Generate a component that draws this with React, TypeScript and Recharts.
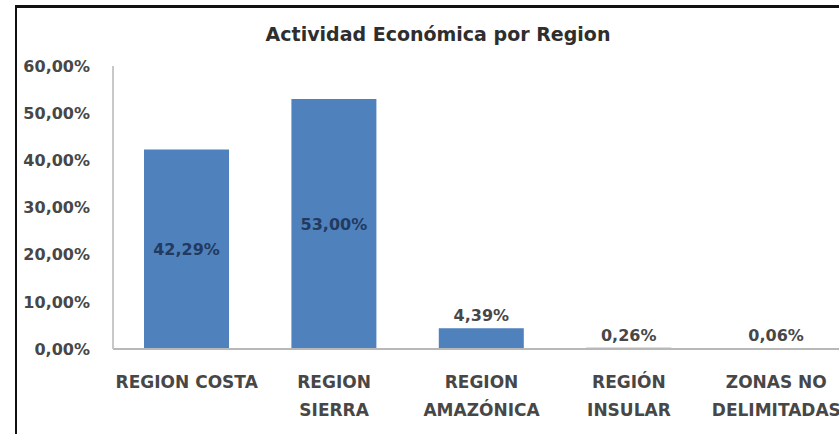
import React from "react";
import { BarChart, Bar, XAxis, YAxis, LabelList, Cell } from "recharts";

const categories = [
  "REGION COSTA",
  "REGION\nSIERRA",
  "REGION\nAMAZÓNICA",
  "REGIÓN\nINSULAR",
  "ZONAS NO\nDELIMITADAS",
];
const shares = [42.29, 53.0, 4.39, 0.26, 0.06];
const yTicks = [0, 10, 20, 30, 40, 50, 60];
const title = "Actividad Económica por Region";

const data = categories.map((c, i) => ({ name: c, value: shares[i] }));

const FONT = "'DejaVu Sans', sans-serif";
const fmt = (v: number) => v.toFixed(2).replace(".", ",") + "%";

const XTick = (props: any) => {
  const { x, y, payload } = props;
  const lines = String(payload.value).split("\n");
  return (
    <g transform={`translate(${x},${y})`}>
      {lines.map((l: string, i: number) => (
        <text
          key={i}
          x={0}
          y={31 + i * 28}
          textAnchor="middle"
          fill="#474747"
          fontSize={17}
          fontWeight={700}
          fontFamily={FONT}
        >
          {l}
        </text>
      ))}
    </g>
  );
};

const ValueLabel = (props: any) => {
  const { x, y, width, height, value } = props;
  const cx = x + width / 2;
  if (value > 10) {
    return (
      <text
        x={cx}
        y={y + height / 2 + 6}
        textAnchor="middle"
        fill="#223a60"
        fontSize={16}
        fontWeight={700}
        fontFamily={FONT}
      >
        {fmt(value)}
      </text>
    );
  }
  return (
    <text
      x={cx}
      y={y - 7}
      textAnchor="middle"
      fill="#474747"
      fontSize={16}
      fontWeight={700}
      fontFamily={FONT}
    >
      {fmt(value)}
    </text>
  );
};

export default function App() {
  return (
    <div
      style={{
        position: "absolute",
        left: 0,
        top: 0,
        width: 839,
        height: 434,
        overflow: "hidden",
        background: "#ffffff",
      }}
    >
      <div
        style={{
          position: "absolute",
          left: 15,
          top: 5,
          width: 900,
          height: 500,
          borderLeft: "2px solid #111",
          borderTop: "3px solid #111",
          boxSizing: "border-box",
        }}
      />
      <div
        style={{
          position: "absolute",
          left: 0,
          top: 23,
          width: 876,
          textAlign: "center",
          fontFamily: FONT,
          fontWeight: 700,
          fontSize: 19,
          color: "#2e2e2e",
        }}
      >
        {title}
      </div>
      <div style={{ position: "absolute", left: 0, top: 0 }}>
        <BarChart
          width={860}
          height={434}
          data={data}
          margin={{ top: 66, right: 10, bottom: 0, left: 0 }}
        >
          <XAxis
            dataKey="name"
            interval={0}
            tickLine={false}
            axisLine={{ stroke: "#b8b8b8", strokeWidth: 2 }}
            height={85}
            tick={<XTick />}
          />
          <YAxis
            width={113}
            domain={[0, 60]}
            ticks={yTicks}
            tickLine={false}
            tickSize={0}
            tickMargin={23}
            axisLine={{ stroke: "#c8c8c8", strokeWidth: 2 }}
            tickFormatter={(v: number) => fmt(v)}
            tick={{ fontSize: 16, fill: "#474747", fontFamily: FONT, fontWeight: 700 }}
          />
          <Bar dataKey="value" barSize={85} fill="#4f81bd" isAnimationActive={false} minPointSize={1}>
            {data.map((d, i) => (
              <Cell key={i} fill="#4f81bd" />
            ))}
            <LabelList dataKey="value" content={<ValueLabel />} />
          </Bar>
        </BarChart>
      </div>
    </div>
  );
}
